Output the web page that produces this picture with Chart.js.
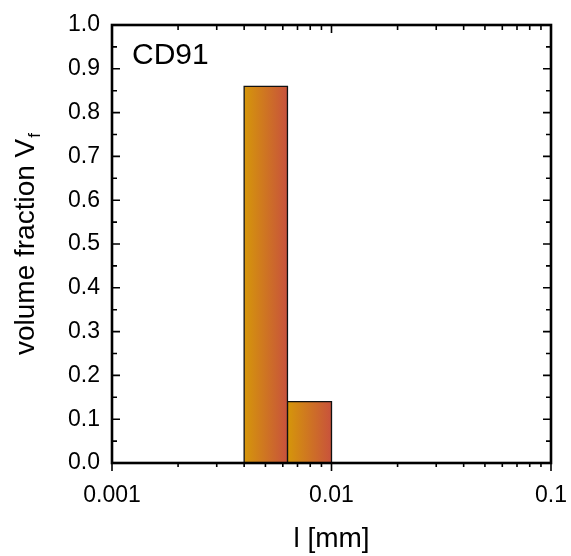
<!DOCTYPE html>
<html>
<head>
<meta charset="utf-8">
<style>
  html, body { margin: 0; padding: 0; background: #ffffff; }
  canvas { display: block; }
</style>
<script src="https://cdn.jsdelivr.net/npm/chart.js@4/dist/chart.umd.min.js"></script>
</head>
<body>
<canvas id="chart" width="571" height="556"></canvas>
<script>
// Size classes: bin edges in mm (logarithmic bins) and the volume fraction of each bin
const binEdges = [0.004, 0.0063, 0.01];
const volumeFractions = [0.86, 0.14];

// Axis tick values
const xTickValues = [0.001, 0.01, 0.1];
const xTickLabels = ['0.001', '0.01', '0.1'];
const yTickValues = [0, 0.1, 0.2, 0.3, 0.4, 0.5, 0.6, 0.7, 0.8, 0.9, 1.0];

const sampleName = 'CD91';
const xTitle = 'l [mm]';
const yTitleMain = 'volume fraction V';
const yTitleSub = 'f';

const FONT = '"Liberation Sans", Arial, Helvetica, sans-serif';
const GRAD_LEFT = '#d5960a';
const GRAD_RIGHT = '#c8523c';

// Each bin becomes a closed outline filled down to zero, shaded left-to-right
function binGradient(ctx, lo, hi) {
  const chart = ctx.chart;
  const xs = chart.scales.x;
  if (!xs || !chart.chartArea) return GRAD_LEFT;
  const x0 = xs.getPixelForValue(lo);
  const x1 = xs.getPixelForValue(hi);
  const g = chart.ctx.createLinearGradient(x0, 0, x1, 0);
  g.addColorStop(0, GRAD_LEFT);
  g.addColorStop(1, GRAD_RIGHT);
  return g;
}

const datasets = volumeFractions.map((v, i) => {
  const lo = binEdges[i], hi = binEdges[i + 1];
  return {
    label: lo + '-' + hi,
    data: [{x: lo, y: 0}, {x: lo, y: v}, {x: hi, y: v}, {x: hi, y: 0}],
    borderColor: '#111111',
    borderWidth: 1.3,
    pointRadius: 0,
    tension: 0,
    fill: 'origin',
    backgroundColor: (ctx) => binGradient(ctx, lo, hi)
  };
});

// Frame, inward/outward tick marks, axis titles and the sample name
const framePlugin = {
  id: 'frame',
  afterDatasetsDraw(chart) {
    const {ctx, chartArea: a, scales} = chart;
    const xs = scales.x, ys = scales.y;
    ctx.save();
    ctx.strokeStyle = '#000';
    ctx.lineCap = 'butt';

    // tick marks
    ctx.lineWidth = 1.6;
    ctx.beginPath();
    // y: majors every 0.1, minors at the half steps, pointing inward on both sides
    for (let k = 0; k <= 20; k++) {
      const val = k * 0.05;
      const y = ys.getPixelForValue(val);
      const len = (k % 2 === 0) ? 8 : 5;
      ctx.moveTo(a.left, y); ctx.lineTo(a.left + len, y);
      ctx.moveTo(a.right, y); ctx.lineTo(a.right - len, y);
    }
    // x: decades and 2..9 subdivisions; inward on top, outward on bottom
    for (let d = -3; d <= -1; d++) {
      for (let m = 1; m <= 9; m++) {
        const val = m * Math.pow(10, d);
        if (val > 0.1 + 1e-12) break;
        const x = xs.getPixelForValue(val);
        const major = (m === 1);
        const lenTop = major ? 8 : 5;
        const lenBot = major ? 8 : 4;
        ctx.moveTo(x, a.top); ctx.lineTo(x, a.top + lenTop);
        ctx.moveTo(x, a.bottom); ctx.lineTo(x, a.bottom + lenBot);
      }
    }
    ctx.stroke();

    // frame
    ctx.lineWidth = 2.6;
    ctx.strokeRect(a.left, a.top, a.right - a.left, a.bottom - a.top);

    // sample name inside the plot
    ctx.fillStyle = '#000';
    ctx.font = '30px ' + FONT;
    ctx.textAlign = 'left';
    ctx.textBaseline = 'alphabetic';
    ctx.fillText(sampleName, a.left + 20, a.top + 39);

    // x title
    ctx.font = '28px ' + FONT;
    ctx.textAlign = 'center';
    ctx.fillText(xTitle, (a.left + a.right) / 2, 547);

    // y title with subscript, rotated
    ctx.save();
    const mainFont = '28px ' + FONT;
    const subFont = '17px ' + FONT;
    ctx.font = mainFont;
    const wMain = ctx.measureText(yTitleMain).width;
    ctx.font = subFont;
    const wSub = ctx.measureText(yTitleSub).width;
    const total = wMain + wSub + 1;
    ctx.translate(34, (a.top + a.bottom) / 2);
    ctx.rotate(-Math.PI / 2);
    ctx.textAlign = 'left';
    ctx.font = mainFont;
    ctx.fillText(yTitleMain, -total / 2, 0);
    ctx.font = subFont;
    ctx.fillText(yTitleSub, -total / 2 + wMain + 1, 6);
    ctx.restore();

    ctx.restore();
  }
};

new Chart(document.getElementById('chart'), {
  type: 'line',
  data: { datasets },
  options: {
    responsive: false,
    animation: false,
    devicePixelRatio: 1,
    layout: { padding: { top: 25, right: 20, left: 0, bottom: 0 } },
    plugins: { legend: { display: false }, tooltip: { enabled: false } },
    scales: {
      x: {
        type: 'logarithmic',
        min: 0.001,
        max: 0.1,
        grid: { display: false, drawTicks: false },
        border: { display: false },
        afterBuildTicks: (s) => { s.ticks = xTickValues.map(v => ({ value: v })); },
        afterFit: (s) => { s.height = 93; s.paddingLeft = 0; s.paddingRight = 0; },
        ticks: {
          autoSkip: false,
          maxRotation: 0,
          padding: 19,
          color: '#000',
          font: { family: FONT, size: 23 },
          callback: (v) => {
            const i = xTickValues.findIndex(t => Math.abs(t - v) < 1e-12);
            return i >= 0 ? xTickLabels[i] : '';
          }
        }
      },
      y: {
        type: 'linear',
        min: 0,
        max: 1,
        grid: { display: false, drawTicks: false },
        border: { display: false },
        afterBuildTicks: (s) => { s.ticks = yTickValues.map(v => ({ value: v })); },
        afterFit: (s) => { s.width = 112; s.paddingTop = 0; s.paddingBottom = 0; },
        ticks: {
          padding: 12,
          color: '#000',
          font: { family: FONT, size: 23 },
          callback: (v) => Number(v).toFixed(1)
        }
      }
    }
  },
  plugins: [framePlugin]
});
</script>
</body>
</html>
